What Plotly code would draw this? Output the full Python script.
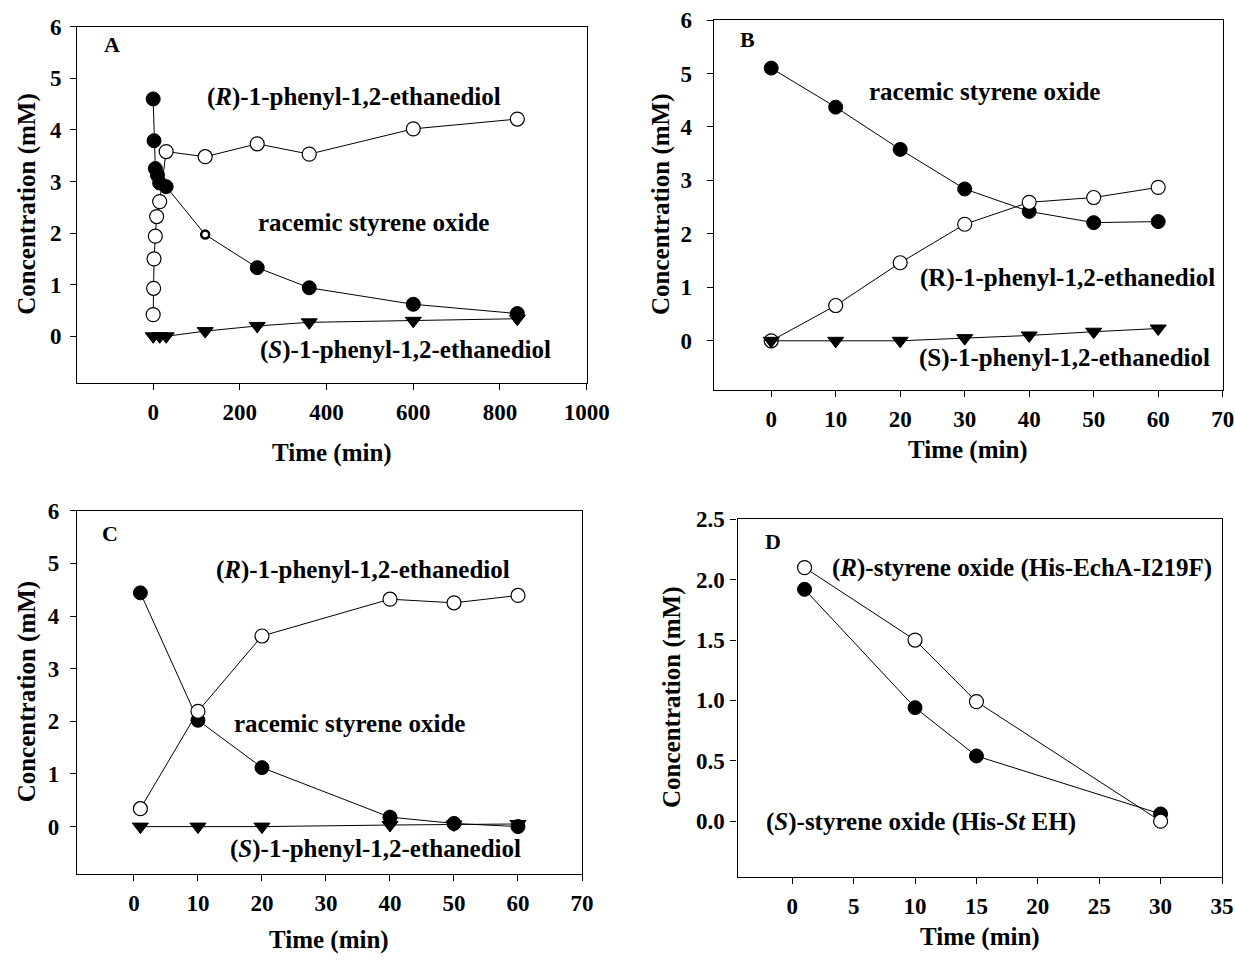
import plotly.graph_objects as go

W, H = 1235, 961

# ---------------- data ----------------
# Panel A
a_rac_t = [0, 2, 5, 10, 15, 30, 120, 240, 360, 600, 840]
a_rac_c = [4.6, 3.79, 3.25, 3.12, 2.97, 2.9, 1.97, 1.33, 0.94, 0.62, 0.44]
a_r_t = [0, 1, 2, 5, 8, 15, 30, 120, 240, 360, 600, 840]
a_r_c = [0.42, 0.93, 1.5, 1.94, 2.32, 2.61, 3.58, 3.48, 3.73, 3.53, 4.02, 4.21]
a_s_t = [0, 15, 30, 120, 240, 360, 600, 840]
a_s_c = [0.0, 0.0, 0.0, 0.1, 0.2, 0.27, 0.3, 0.34]

# Panel B
b_t = [0, 10, 20, 30, 40, 50, 60]
b_rac_c = [5.1, 4.37, 3.58, 2.84, 2.42, 2.21, 2.23]
b_r_c = [0.0, 0.66, 1.46, 2.18, 2.59, 2.68, 2.87]
b_s_c = [0.0, 0.0, 0.0, 0.05, 0.1, 0.17, 0.23]

# Panel C
c_t = [1, 10, 20, 40, 50, 60]
c_rac_c = [4.44, 2.02, 1.12, 0.18, 0.06, 0.0]
c_r_c = [0.34, 2.19, 3.62, 4.32, 4.25, 4.39]
c_s_c = [0.0, 0.0, 0.0, 0.03, 0.04, 0.05]

# Panel D
d_t = [1, 10, 15, 30]
d_r_c = [2.10, 1.50, 0.99, 0.0]
d_s_c = [1.92, 0.94, 0.54, 0.06]

# ---------------- layout geometry (pixels) ----------------
panels = {
    # name: (left, top, right, bottom, xrange, yrange, xdtick, ydtick, ytickformat, ystandoff)
    "A": (77.3, 26.7, 586.7, 382.7, [-175, 1000], [-0.9, 6], 200, 1, "d", 4),
    "B": (713.8, 20, 1222.7, 390, [-8.9, 70], [-0.92, 6], 10, 1, "d", 10),
    "C": (77, 510.7, 582, 874, [-8.9, 70], [-0.9, 6], 10, 1, "d", 6),
    "D": (737.5, 519.3, 1222, 876.7, [-4.46, 35], [-0.46, 2.5], 5, 0.5, ".1f", 1),
}
axis_ids = {"A": ("x", "y"), "B": ("x2", "y2"), "C": ("x3", "y3"), "D": ("x4", "y4")}

FONT = "Liberation Serif, Times New Roman, serif"
MS = 14

fig = go.Figure()


def add_series(name, t, c, kind, xa, ya):
    if kind == "filled":
        marker = dict(symbol="circle", size=MS, color="black", opacity=1,
                      line=dict(color="black", width=1))
    elif kind == "open":
        marker = dict(symbol="circle", size=MS, color="white", opacity=1,
                      line=dict(color="black", width=1.2))
    else:
        marker = dict(symbol="triangle-down", size=MS, color="black", opacity=1,
                      line=dict(color="black", width=1))
    fig.add_trace(go.Scatter(x=t, y=c, mode="lines+markers", name=name,
                             line=dict(color="black", width=1), marker=marker,
                             xaxis=xa, yaxis=ya, showlegend=False))


# Panel A
add_series("(R)-1-phenyl-1,2-ethanediol", a_r_t, a_r_c, "open", "x", "y")
add_series("racemic styrene oxide", a_rac_t, a_rac_c, "filled", "x", "y")
# the 120-min point is drawn as a small thick ring in the original
idx = a_rac_t.index(120)
fig.data[-1].marker.size = [8 if i == idx else MS for i in range(len(a_rac_t))]
fig.data[-1].marker.color = ["white" if i == idx else "black" for i in range(len(a_rac_t))]
fig.data[-1].marker.line.width = [2.5 if i == idx else 1 for i in range(len(a_rac_t))]
add_series("(S)-1-phenyl-1,2-ethanediol", a_s_t, a_s_c, "tri", "x", "y")

# Panel B
add_series("racemic styrene oxide", b_t, b_rac_c, "filled", "x2", "y2")
add_series("(R)-1-phenyl-1,2-ethanediol", b_t, b_r_c, "open", "x2", "y2")
add_series("(S)-1-phenyl-1,2-ethanediol", b_t, b_s_c, "tri", "x2", "y2")

# Panel C
add_series("racemic styrene oxide", c_t, c_rac_c, "filled", "x3", "y3")
add_series("(R)-1-phenyl-1,2-ethanediol", c_t, c_r_c, "open", "x3", "y3")
add_series("(S)-1-phenyl-1,2-ethanediol", c_t, c_s_c, "tri", "x3", "y3")

# Panel D
add_series("(S)-styrene oxide (His-St EH)", d_t, d_s_c, "filled", "x4", "y4")
add_series("(R)-styrene oxide (His-EchA-I219F)", d_t, d_r_c, "open", "x4", "y4")

layout = dict(width=W, height=H, margin=dict(l=0, r=0, t=0, b=0, autoexpand=False),
              paper_bgcolor="white", plot_bgcolor="white", showlegend=False)

for key, (l, t, r, b, xr, yr, xdt, ydt, yfmt, ystand) in panels.items():
    xa, ya = axis_ids[key]
    xname = "xaxis" + xa[1:]
    yname = "yaxis" + ya[1:]
    common = dict(showline=True, mirror=True, linecolor="black", linewidth=1.4,
                  ticks="outside", ticklen=6, tickwidth=1.2, tickcolor="black",
                  showgrid=False, zeroline=False, automargin=False,
                  tickfont=dict(family=FONT, size=23, color="black", weight="bold"))
    layout[xname] = dict(common, domain=[l / W, r / W], range=xr, dtick=xdt, tick0=0,
                         anchor=ya, ticklabelstandoff=2)
    layout[yname] = dict(common, domain=[1 - b / H, 1 - t / H], range=yr, dtick=ydt, tick0=0,
                         anchor=xa, tickformat=yfmt, ticklabelstandoff=ystand)
fig.update_layout(**layout)

ann = []


def txt(text, x, y, xref, yref, size=25, angle=0):
    ann.append(dict(text=text, x=x, y=y, xref=xref, yref=yref, showarrow=False,
                    font=dict(family=FONT, size=size, color="black"),
                    xanchor="center", yanchor="middle", textangle=angle))


# panel labels and curve labels
txt("<b>A</b>", -96, 5.65, "x", "y", 22)
txt("<b>(<i>R</i>)-1-phenyl-1,2-ethanediol</b>", 464, 4.64, "x", "y")
txt("<b>racemic styrene oxide</b>", 508, 2.2, "x", "y")
txt("<b>(<i>S</i>)-1-phenyl-1,2-ethanediol</b>", 582, -0.27, "x", "y")

txt("<b>B</b>", -3.6, 5.63, "x2", "y2", 22)
txt("<b>racemic styrene oxide</b>", 33.1, 4.66, "x2", "y2")
txt("<b>(R)-1-phenyl-1,2-ethanediol</b>", 45.9, 1.17, "x2", "y2")
txt("<b>(S)-1-phenyl-1,2-ethanediol</b>", 45.4, -0.32, "x2", "y2")

txt("<b>C</b>", -3.75, 5.57, "x3", "y3", 22)
txt("<b>(<i>R</i>)-1-phenyl-1,2-ethanediol</b>", 35.8, 4.87, "x3", "y3")
txt("<b>racemic styrene oxide</b>", 33.75, 1.96, "x3", "y3")
txt("<b>(<i>S</i>)-1-phenyl-1,2-ethanediol</b>", 37.8, -0.42, "x3", "y3")

txt("<b>D</b>", -1.58, 2.32, "x4", "y4", 22)
txt("<b>(<i>R</i>)-styrene oxide (His-EchA-I219F)</b>", 18.73, 2.1, "x4", "y4")
txt("<b>(<i>S</i>)-styrene oxide (His-<i>St</i> EH)</b>", 10.5, -0.01, "x4", "y4")

# axis titles (pixel positions of the y-title centre x and the x-title centre y)
titles = {"A": (27, 453.3), "B": (661, 450), "C": (27, 940), "D": (672, 936.7)}
for key, (ypx, xpy) in titles.items():
    l, t, r, b = panels[key][:4]
    txt("<b>Time (min)</b>", ((l + r) / 2) / W, 1 - xpy / H, "paper", "paper", 25)
    txt("<b>Concentration (mM)</b>", ypx / W, 1 - ((t + b) / 2) / H, "paper", "paper", 25, -90)

fig.update_layout(annotations=ann)
fig.write_html("out.html",
               config={"displayModeBar": False},
               post_script="document.body.style.margin='0';document.body.style.padding='0';"
                           "document.documentElement.style.overflow='hidden';")
